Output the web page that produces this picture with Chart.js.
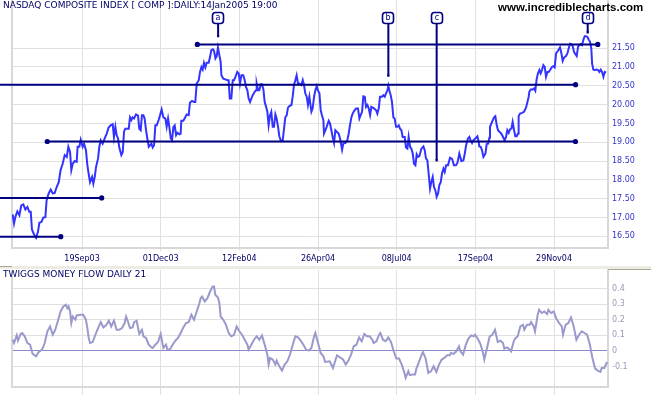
<!DOCTYPE html>
<html>
<head>
<meta charset="utf-8">
<script src="https://cdn.jsdelivr.net/npm/chart.js@4.4.1/dist/chart.umd.min.js"></script>
<style>
  html, body { margin:0; padding:0; background:#ffffff; }
  #wrap { position:relative; width:651px; height:395px; overflow:hidden; background:#ffffff; }
  #wrap canvas { position:absolute; left:0; }
  .txt { position:absolute; white-space:nowrap; font-family:"DejaVu Sans", sans-serif; }
</style>
</head>
<body>
<div id="wrap">
  <canvas id="priceChart" width="651" height="268" style="top:0;width:651px;height:268px;"></canvas>
  <canvas id="flowChart" width="651" height="127" style="top:268px;width:651px;height:127px;"></canvas>
  <div style="position:absolute;left:0;top:266px;width:651px;height:3px;background:#ecebe4;"></div>
  <div style="position:absolute;left:0;top:266px;width:12px;height:1px;background:#a9a58e;"></div>
  <div style="position:absolute;left:608px;top:269px;width:43px;height:1px;background:#a9a58e;"></div>
  <div class="txt" style="left:3px;top:1px;font-size:9px;line-height:9px;color:#000066;">NASDAQ COMPOSITE INDEX [ COMP ]:DAILY:14Jan2005 19:00</div>
  <div class="txt" style="left:498px;top:1px;font:bold 11.5px 'Liberation Sans', Arial, sans-serif;line-height:12px;color:#000000;">www.incrediblecharts.com</div>
  <div class="txt" style="left:3px;top:270px;font-size:9px;line-height:9px;color:#000066;">TWIGGS MONEY FLOW DAILY 21</div>
</div>
<script>
// ---- axis ticks (trading-day index of each date label) ----
const tickDays   = [50, 100, 150, 200, 250, 300, 350];
const tickLabels = ['19Sep03', '01Dec03', '12Feb04', '26Apr04', '08Jul04', '17Sep04', '29Nov04'];
const priceTicks = [16.5, 17, 17.5, 18, 18.5, 19, 19.5, 20, 20.5, 21, 21.5];
const flowTicks  = [-0.1, 0, 0.1, 0.2, 0.3, 0.4];

// ---- NASDAQ Composite (thousands) ----
const priceDays = [
  5.9,6.8,7.6,8.9,10.2,11.4,12.7,14.0,15.3,16.5,
  17.4,18.2,19.5,20.8,22.0,22.9,24.2,25.4,26.7,27.5,
  28.8,30.1,31.4,32.6,33.9,35.2,36.4,37.7,39.0,40.3,
  41.3,42.4,43.2,44.1,45.3,46.6,47.2,48.3,49.2,50.4,
  51.3,52.5,53.4,54.2,55.1,56.4,57.2,58.1,58.9,60.2,
  61.0,61.9,63.1,64.4,65.7,66.9,68.2,69.5,70.3,71.2,
  72.0,72.9,73.7,75.0,75.9,76.7,77.5,78.8,79.7,80.5,
  81.4,82.2,83.1,84.3,85.6,86.4,87.3,88.1,89.0,89.8,
  90.7,91.5,92.4,93.2,94.1,94.9,95.8,96.6,97.5,98.7,
  99.6,
  100.6,101.7,103.0,103.8,104.7,105.5,106.4,107.2,108.1,108.9,
  109.8,110.6,111.9,112.7,113.1,114.4,115.7,116.5,117.8,118.6,
  119.9,121.2,122.0,122.9,124.2,125.0,125.9,126.7,127.5,128.4,
  129.2,130.5,131.4,132.2,133.1,133.9,134.8,135.6,136.4,137.3,
  138.1,138.6,139.8,141.1,142.4,143.2,143.9,144.9,145.8,146.6,
  147.5,148.7,149.6,150.4,151.3,152.5,153.4,154.2,155.1,155.9,
  156.8,157.6,158.5,159.7,160.6,161.0,161.9,162.7,163.6,164.4,
  165.3,166.1,167.0,167.8,168.6,169.5,170.3,171.2,172.0,172.9,
  173.7,174.6,175.4,176.3,177.5,178.4,179.2,180.1,180.9,181.8,
  183.1,183.9,184.7,185.6,186.4,187.3,188.1,189.4,190.3,191.1,
  191.9,192.8,193.6,194.5,
  195.8,196.6,197.5,198.3,199.2,200.0,200.9,201.7,202.5,203.4,
  203.8,204.7,205.5,206.8,207.6,208.5,209.3,210.2,211.0,211.9,
  213.1,214.0,215.3,216.1,217.4,218.6,219.5,220.3,221.2,222.0,
  222.9,224.2,225.4,226.3,227.1,228.0,228.8,229.7,230.5,231.4,
  232.2,233.1,233.9,234.8,235.6,236.9,237.7,238.6,239.4,240.7,
  241.5,242.4,243.2,244.1,244.7,245.3,246.2,247.0,247.9,248.7,
  249.6,250.4,251.3,252.1,253.0,253.8,255.1,255.9,256.8,257.6,
  258.5,259.3,260.2,261.0,261.9,262.7,263.6,264.4,265.7,267.0,
  267.8,268.6,269.5,270.3,271.2,272.0,272.9,273.7,274.6,275.4,
  276.3,277.1,278.0,278.8,279.7,280.5,281.4,282.6,283.9,285.2,
  286.4,287.7,288.6,289.8,
  291.1,292.4,293.2,294.1,295.3,296.2,297.0,297.9,298.7,300.0,
  301.3,302.1,302.5,303.4,304.2,305.1,306.4,307.2,308.1,308.9,
  309.3,310.6,311.9,312.7,313.6,314.4,315.3,316.1,317.0,317.8,
  318.6,319.5,320.3,321.2,322.0,322.9,323.7,324.6,325.4,326.3,
  327.1,327.5,328.4,329.7,330.9,332.2,333.1,333.9,334.3,335.2,
  336.4,337.3,338.1,339.0,339.8,340.7,341.5,342.4,343.2,344.1,
  344.9,345.8,346.6,347.5,348.7,349.6,350.4,351.3,352.5,353.8,
  354.7,355.5,356.4,357.6,358.5,359.3,360.2,361.0,361.9,362.7,
  363.6,364.4,365.3,366.1,367.0,367.8,368.7,369.5,370.3,371.2,
  372.0,372.9,373.7,374.2,375.0,375.9,377.1,378.0,378.8,379.7,
  380.5,381.4,382.2,383.1
];
const priceClose = [
  17.08,16.84,17.01,17.16,17.06,17.32,17.35,17.21,17.28,17.15,
  17.15,16.68,16.55,16.46,16.62,16.86,16.88,17.00,17.01,17.46,
  17.64,17.74,17.64,17.65,17.81,17.94,18.26,18.43,18.66,18.61,
  18.88,18.74,18.26,18.43,18.50,18.48,18.88,18.88,19.07,18.88,
  18.96,18.79,18.39,18.17,17.94,18.08,17.90,18.08,18.34,18.57,
  18.88,19.05,18.96,19.10,19.23,19.39,19.45,19.48,19.14,19.41,
  19.19,19.10,18.86,18.66,18.74,19.28,19.36,19.36,19.36,19.66,
  19.59,19.66,19.63,19.74,19.71,19.36,19.32,19.72,19.72,19.63,
  19.32,19.10,18.88,18.92,18.96,18.86,18.92,19.45,19.45,19.59,
  19.72,
  19.87,19.66,19.63,19.41,19.63,19.41,19.10,19.05,19.41,19.45,
  19.19,19.25,19.21,19.23,19.57,19.57,19.67,19.74,19.72,20.05,
  20.10,20.07,20.07,20.56,20.65,20.87,21.00,20.93,21.11,20.99,
  21.11,21.11,21.27,21.45,21.47,21.43,21.23,21.29,21.52,21.31,
  21.14,20.78,20.69,20.67,20.65,20.65,20.16,20.16,20.65,20.65,
  20.74,20.87,20.83,20.56,20.78,20.78,20.65,20.47,20.38,20.16,
  20.07,20.16,20.25,20.34,20.38,20.56,20.38,20.38,20.54,20.54,
  20.40,20.07,19.94,19.81,19.45,19.72,19.81,19.41,19.41,19.74,
  19.63,19.41,19.16,19.05,19.04,19.36,19.66,19.72,19.92,19.96,
  19.99,20.21,20.52,20.65,20.78,20.56,20.56,20.52,20.65,20.52,
  20.30,20.21,19.99,20.21,
  19.81,19.90,20.21,20.38,20.49,20.37,20.30,19.85,19.72,19.59,
  19.23,19.32,19.41,19.57,19.50,19.32,19.14,18.98,19.32,19.28,
  19.23,19.10,18.80,18.97,18.98,19.05,19.23,19.45,19.66,19.76,
  19.83,19.90,19.90,19.63,19.72,19.81,20.22,20.21,19.94,19.99,
  19.90,19.72,19.94,19.92,19.90,19.85,19.76,19.90,20.21,20.21,
  20.25,20.21,20.30,20.38,20.50,20.38,20.25,20.07,19.66,19.63,
  19.41,19.41,19.45,19.36,19.32,19.14,19.14,18.86,18.83,19.14,
  18.88,18.83,18.70,18.43,18.39,18.68,18.61,18.63,18.83,18.89,
  18.79,18.57,18.52,18.17,17.77,17.94,18.08,17.81,17.72,17.55,
  17.64,17.86,17.94,18.17,18.30,18.21,18.39,18.39,18.59,18.56,
  18.39,18.39,18.45,18.70,
  18.50,18.52,18.68,18.92,19.10,19.14,19.05,18.98,19.05,19.10,
  19.16,19.01,18.89,18.88,18.79,18.61,18.70,18.95,18.96,19.12,
  19.41,19.54,19.66,19.69,19.45,19.32,19.28,19.25,19.19,19.12,
  19.05,19.14,19.32,19.25,19.34,19.36,19.54,19.32,19.16,19.16,
  19.23,19.69,19.76,19.78,19.81,19.92,20.07,20.21,20.34,20.40,
  20.40,20.43,20.37,20.69,20.83,20.92,20.83,20.93,21.05,21.00,
  20.74,20.87,20.87,20.92,21.00,21.02,20.99,21.36,21.43,21.52,
  21.36,21.16,21.25,21.29,21.36,21.49,21.62,21.61,21.55,21.40,
  21.34,21.29,21.54,21.58,21.61,21.58,21.73,21.82,21.82,21.80,
  21.73,21.67,21.49,21.09,20.93,20.92,20.93,20.92,20.87,20.93,
  20.87,20.74,20.87,20.85
];

// ---- Twiggs Money Flow 21 ----
const flowDays = [
  5.9,6.8,8.5,9.3,11.0,11.9,13.6,15.3,17.0,18.6,
  20.8,22.5,24.6,26.3,28.0,29.7,31.4,33.0,34.7,36.4,
  38.1,39.8,40.7,41.5,42.4,43.2,44.1,45.8,46.6,49.2,
  50.8,52.5,53.4,54.2,55.1,56.8,58.5,60.2,61.9,63.6,
  65.3,67.0,68.6,70.3,72.0,73.7,75.4,77.1,78.0,78.8,
  80.5,82.2,83.1,84.7,86.4,88.1,89.0,90.7,92.4,94.1,
  94.9,96.6,98.3,100.0,101.7,103.4,104.2,105.9,107.6,109.3,
  111.0,112.7,114.4,116.1,117.8,119.5,121.2,122.9,124.6,125.4,
  126.3,128.0,129.7,131.4,133.0,133.9,134.7,136.4,137.3,138.1,
  139.8,141.5,143.2,144.9,146.6,148.3,150.0,151.7,153.4,155.1,
  155.9,157.6,159.3,161.0,162.7,164.4,166.1,167.8,168.6,169.5,
  171.2,172.9,173.7,175.4,177.1,178.8,180.5,182.2,183.9,185.6,
  187.3,189.0,190.7,192.4,194.1,195.8,197.5,198.3,200.0,201.7,
  203.4,204.5,207.4,209.5,211.2,212.1,213.8,215.9,217.6,219.3,
  221.0,222.7,224.4,226.1,227.8,229.4,231.1,232.8,234.5,235.4,
  237.1,238.8,239.6,241.3,243.0,244.7,246.4,248.1,249.8,251.5,
  253.2,254.9,255.7,257.4,258.3,260.0,261.7,262.5,264.2,265.9,
  266.7,268.4,270.1,271.8,273.5,275.2,276.9,278.6,280.3,282.0,
  283.7,284.5,286.2,287.9,289.6,290.5,292.2,293.9,295.6,297.3,
  299.0,299.8,301.5,303.2,304.9,305.7,307.4,309.1,310.8,312.5,
  314.2,315.9,317.6,318.4,320.1,321.8,322.7,324.4,325.2,326.9,
  328.6,330.3,331.1,332.8,334.5,335.4,337.1,337.9,339.6,340.5,
  342.2,343.9,345.6,346.4,348.1,349.8,351.5,353.2,354.9,355.7,
  357.4,359.1,360.8,362.5,364.2,365.9,367.6,369.3,371.0,372.7,
  374.4,376.1,377.8,379.5,380.3,382.0,383.7
];
const flowValues = [
  0.072,0.051,0.100,0.066,0.109,0.115,0.094,0.051,0.040,-0.019,
  -0.034,-0.006,0.009,0.051,0.126,0.157,0.104,0.136,0.194,0.253,
  0.285,0.296,0.274,0.285,0.253,0.179,0.221,0.200,0.228,0.232,
  0.232,0.200,0.147,0.087,0.051,0.057,0.104,0.147,0.185,0.151,
  0.164,0.194,0.157,0.194,0.136,0.136,0.147,0.179,0.221,0.200,
  0.147,0.151,0.185,0.194,0.109,0.136,0.094,0.083,0.040,0.023,
  0.019,0.040,0.057,0.109,0.019,0.040,0.009,0.009,0.040,0.066,
  0.083,0.115,0.151,0.179,0.185,0.232,0.200,0.253,0.306,0.338,
  0.349,0.317,0.338,0.381,0.413,0.413,0.360,0.343,0.306,0.221,
  0.200,0.168,0.115,0.094,0.104,0.157,0.126,0.104,0.072,0.040,
  0.009,0.040,0.072,0.094,0.072,0.100,0.040,-0.023,-0.087,-0.045,
  -0.055,-0.087,-0.062,-0.098,-0.126,-0.087,-0.066,-0.023,0.040,0.094,
  0.087,0.066,0.040,0.009,0.002,0.019,0.094,0.115,0.051,-0.013,
  -0.034,-0.070,-0.066,-0.109,-0.055,-0.028,-0.040,-0.055,-0.087,-0.062,
  -0.023,0.030,0.040,0.087,0.062,0.109,0.094,0.094,0.072,0.051,
  0.062,0.104,0.115,0.072,0.062,0.087,0.057,-0.002,-0.049,-0.049,
  -0.087,-0.140,-0.172,-0.130,-0.155,-0.151,-0.151,-0.113,-0.070,-0.023,
  -0.006,-0.049,-0.140,-0.130,-0.098,-0.134,-0.087,-0.055,-0.045,-0.028,
  -0.028,-0.013,-0.019,-0.002,0.030,-0.002,-0.023,0.040,0.079,0.100,
  0.094,0.104,0.079,0.045,-0.013,-0.055,0.019,0.094,0.104,0.136,
  0.057,0.066,0.051,0.015,0.023,0.009,-0.002,0.062,0.079,0.094,
  0.157,0.168,0.136,0.168,0.168,0.185,0.157,0.126,0.232,0.264,
  0.243,0.253,0.236,0.264,0.243,0.253,0.206,0.179,0.157,0.104,
  0.168,0.179,0.215,0.157,0.072,0.104,0.126,0.115,0.104,0.045,
  -0.045,-0.113,-0.126,-0.134,-0.109,-0.109,-0.070
];

// ---- trend lines and annotations ----
const levelValues  = [21.60, 20.53, 19.02, 17.52, 16.49];
const levelFrom    = [123.3, -3, 27.9, -3, -3];
const levelTo      = [377.8, 363.7, 363.6, 62.5, 36.5];
const levelFromDot = [true, false, true, false, false];
const markerLabels = ['a', 'b', 'c', 'd'];
const markerDays   = [136.5, 244.7, 275.4, 371.4];
const markerLow    = [21.82, 20.77, 18.52, 21.92];
const markerHigh   = 22.16;
const markerBoxAt  = 22.30;

const X_MIN = 5.5, X_MAX = 384.3;
const NAVY = '#000080';
const GRID = '#e0e0e0';
const AXIS = '#d8d8d8';
const TICK_FONT = { family: 'DejaVu Sans', size: 8 };

const noPad = s => { s.paddingTop = 0; s.paddingBottom = 0; s.paddingLeft = 0; s.paddingRight = 0; };

const frame = {
  id: 'frame',
  beforeDatasetsDraw(chart) {
    const { ctx, chartArea: a } = chart;
    ctx.save();
    ctx.strokeStyle = AXIS; ctx.lineWidth = 2;
    ctx.beginPath(); ctx.moveTo(a.left, a.top); ctx.lineTo(a.left, a.bottom); ctx.stroke();
    ctx.restore();
  }
};

const markerBoxes = {
  id: 'markerBoxes',
  afterDatasetsDraw(chart) {
    const { ctx, scales } = chart;
    ctx.save();
    markerLabels.forEach((lab, k) => {
      const px = Math.round(scales.x.getPixelForValue(markerDays[k]));
      const py = Math.round(scales.y.getPixelForValue(markerBoxAt));
      ctx.beginPath();
      ctx.roundRect(px - 5.5, py - 5.5, 11, 11, 3);
      ctx.fillStyle = '#ffffff'; ctx.fill();
      ctx.lineWidth = 1.6; ctx.strokeStyle = NAVY; ctx.stroke();
      ctx.fillStyle = NAVY; ctx.font = '8px "DejaVu Sans"';
      ctx.textAlign = 'center'; ctx.textBaseline = 'middle';
      ctx.fillText(lab, px, py);
    });
    ctx.restore();
  }
};

const xAxis = (showLabels, h, tickLen) => ({
  type: 'linear', min: X_MIN, max: X_MAX,
  afterBuildTicks: s => { s.ticks = tickDays.map(v => ({ value: v })); },
  afterFit: s => { s.height = h; noPad(s); },
  grid: { color: GRID, lineWidth: 1, tickLength: tickLen },
  border: { color: AXIS, width: 2 },
  ticks: {
    display: showLabels, autoSkip: false, maxRotation: 0, padding: 3,
    color: '#000066', font: TICK_FONT,
    callback: v => tickLabels[tickDays.indexOf(v)]
  }
});

const levelSets = levelValues.map((v, k) => ({
  data: [{ x: levelFrom[k], y: v }, { x: levelTo[k], y: v }],
  borderColor: NAVY, backgroundColor: NAVY, borderWidth: 2,
  pointRadius: [levelFromDot[k] ? 2.6 : 0, 2.6], pointBorderWidth: 0,
  pointBackgroundColor: NAVY, clip: false, order: 1, tension: 0
}));
const markerSets = markerDays.map((d, k) => ({
  data: [{ x: d, y: markerHigh }, { x: d, y: markerLow[k] }],
  borderColor: NAVY, backgroundColor: NAVY, borderWidth: 2,
  pointRadius: [0, 1.6], pointStyle: 'rect', pointBorderWidth: 0,
  pointBackgroundColor: NAVY, clip: false, order: 1
}));
const priceSet = {
  data: priceDays.map((d, k) => ({ x: d, y: priceClose[k] })),
  borderColor: '#3333ff', borderWidth: 2, pointRadius: 0, tension: 0, order: 2
};

new Chart(document.getElementById('priceChart'), {
  type: 'line',
  data: { datasets: [...levelSets, ...markerSets, priceSet] },
  options: {
    responsive: false, animation: false, devicePixelRatio: 1,
    layout: { autoPadding: false, padding: { left: 12, top: 0, right: 0, bottom: 0 } },
    plugins: { legend: { display: false }, tooltip: { enabled: false } },
    scales: {
      x: xAxis(true, 20, 3),
      y: {
        position: 'right', min: 16.19, max: 22.78,
        afterBuildTicks: s => { s.ticks = priceTicks.map(v => ({ value: v })); },
        afterFit: s => { s.width = 43; noPad(s); },
        grid: { color: GRID, drawTicks: false },
        border: { color: AXIS, width: 2 },
        ticks: { padding: 4, color: '#3333cc', font: TICK_FONT, callback: v => v.toFixed(2) }
      }
    }
  },
  plugins: [frame, markerBoxes]
});

new Chart(document.getElementById('flowChart'), {
  type: 'line',
  data: { datasets: [{
    data: flowDays.map((d, k) => ({ x: d, y: flowValues[k] })),
    borderColor: '#9999cc', borderWidth: 2, pointRadius: 0, tension: 0
  }] },
  options: {
    responsive: false, animation: false, devicePixelRatio: 1,
    layout: { autoPadding: false, padding: { left: 12, top: 2, right: 0, bottom: 0 } },
    plugins: { legend: { display: false }, tooltip: { enabled: false } },
    scales: {
      x: xAxis(false, 8, 8),
      y: {
        position: 'right', min: -0.231, max: 0.519,
        afterBuildTicks: s => { s.ticks = flowTicks.map(v => ({ value: v })); },
        afterFit: s => { s.width = 43; noPad(s); },
        grid: { color: c => (c.tick && c.tick.value === 0) ? '#8c8ccc' : GRID, drawTicks: false },
        border: { color: AXIS, width: 2 },
        ticks: { padding: 4, color: '#9999bb', font: TICK_FONT, callback: v => v === 0 ? '0' : v.toFixed(1) }
      }
    }
  },
  plugins: [frame]
});
</script>
</body>
</html>
